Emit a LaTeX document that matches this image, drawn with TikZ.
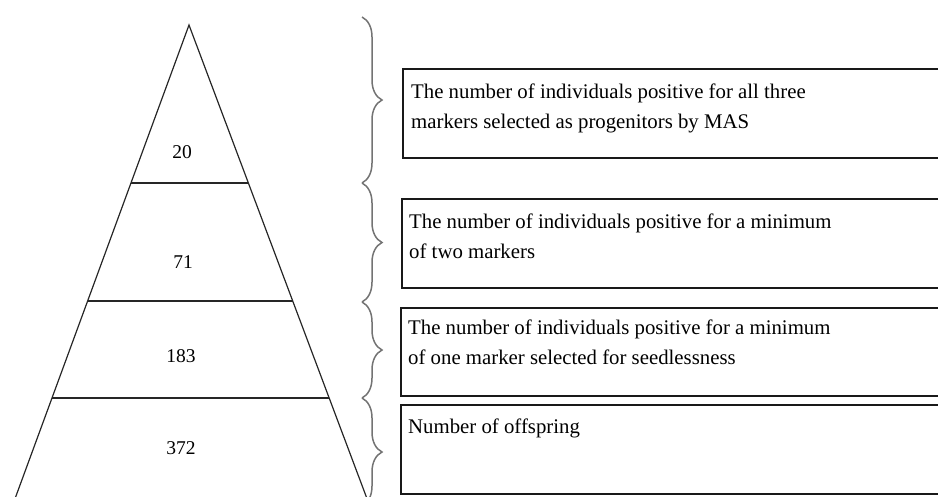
\documentclass[tikz,border=0pt]{standalone}
\usepackage{fontspec}
\setmainfont{Liberation Serif}
\usetikzlibrary{decorations.pathreplacing,calc}
\begin{document}
\begin{tikzpicture}[x=1pt,y=-1pt,
  tri/.style={line width=1.2pt, draw=black!85},
  bx/.style={draw=black!90, line width=1.6pt, rectangle, inner sep=0pt, anchor=north west, minimum width=560pt, minimum height=89pt},
  brc/.style={decorate, decoration={brace, amplitude=20pt}, draw=black!55, line width=1.5pt},
  num/.style={font=\fontsize{19.5}{23}\selectfont, inner sep=0pt},
  lbl/.style={anchor=north west, align=left, font=\fontsize{20.8}{30}\selectfont, inner sep=0pt}]
\useasboundingbox (0,0) rectangle (938,496);
% pyramid
\coordinate (apex) at (189,25);
\coordinate (bl) at (16,496);
\coordinate (br) at (366,496);
\draw[tri] ($(apex)!1.04!(bl)$) -- (apex) -- ($(apex)!1.04!(br)$);
\foreach \t [count=\i] in {0.3355,0.586,0.792}{
  \coordinate (l\i) at ($(apex)!\t!(bl)$);
  \coordinate (r\i) at ($(apex)!\t!(br)$);
  \draw[tri] (l\i) -- (r\i);
}
\node[num] (n20) at (182,152) {20};
\node[num] (n71) at (183,262) {71};
\node[num] (n183) at (181,356) {183};
\node[num] (n372) at (181,448) {372};
% braces
\coordinate (b0) at (362,17);
\coordinate (b1) at (362,183);
\coordinate (b2) at (362,302);
\coordinate (b3) at (362,398);
\coordinate (b4) at (362,506);
\draw[brc] (b0) -- (b1);
\draw[brc] (b1) -- (b2);
\draw[brc] (b2) -- (b3);
\draw[brc] (b3) -- (b4);
% boxes
\node[bx, minimum height=89pt] (box1) at (402,68) {};
\node[bx, minimum height=89pt] (box2) at (401,198) {};
\node[bx, minimum height=88pt] (box3) at (400,307) {};
\node[bx, minimum height=89pt] (box4) at (400,404) {};
\node[lbl] (t1) at ($(box1.north west)+(9,16)$) {The number of individuals positive for all three\\markers selected as progenitors by MAS};
\node[lbl] (t2) at ($(box2.north west)+(8,16)$) {The number of individuals positive for a minimum\\of two markers};
\node[lbl] (t3) at ($(box3.north west)+(8,13)$) {The number of individuals positive for a minimum\\of one marker selected for seedlessness};
\node[lbl] (t4) at ($(box4.north west)+(8,15)$) {Number of offspring};
\end{tikzpicture}
\end{document}
